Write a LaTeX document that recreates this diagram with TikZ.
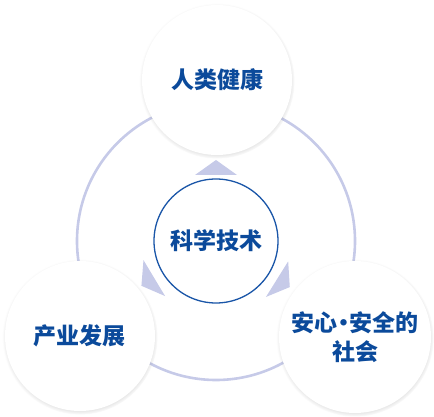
\documentclass[tikz,border=0pt]{standalone}
\usepackage{fontspec}
\newfontfamily\cjk{Noto Sans CJK SC}
\usetikzlibrary{calc,shadows}
\definecolor{ringc}{HTML}{C6CAE8}
\definecolor{txtc}{HTML}{0B4A9B}
\definecolor{hubc}{HTML}{1A56A8}
\begin{document}
\begin{tikzpicture}[x=1pt,y=1pt,
  big/.style={circle,fill=white,minimum size=150pt,inner sep=0pt,align=center,
    circular drop shadow={shadow xshift=0pt,shadow yshift=-1pt,shadow scale=1.035,opacity=.5,fill=gray}},
  hub/.style={circle,draw=hubc,line width=1.3pt,fill=white,minimum size=124pt,inner sep=0pt},
  tri/.style={fill=ringc},
  font=\cjk\bfseries\fontsize{23}{29}\selectfont,text=txtc]
\useasboundingbox (0,0) rectangle (434,417);
\node[hub] (a) at (216,176){科学技术};
\draw[ringc,line width=2.6pt] (a.center) circle[radius=139];
\foreach \t/\r in {90/66,211/72,328/72}
  \fill[tri] ($(a.center)+(\t:\r)+(\t+90:21)$) -- ($(a.center)+(\t:\r+15)$) -- ($(a.center)+(\t:\r)+(\t-90:21)$) -- cycle;
%
\node[big] (b) at (217,337){人类健康};
\node[big] (c) at (80,81){产业发展};
\node[big,minimum size=152pt] (d) at (355,80){安心\kern-.25em·\kern-.25em安全的\\社会};

\end{tikzpicture}
\end{document}
